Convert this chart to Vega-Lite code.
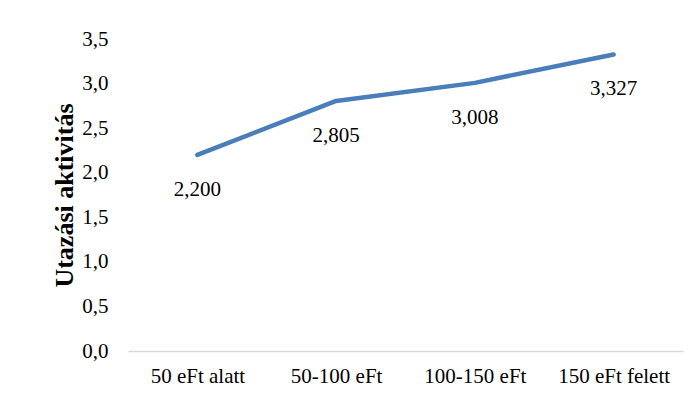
{
  "$schema": "https://vega.github.io/schema/vega-lite/v6.json",
  "width": 555,
  "height": 312,
  "autosize": {"type": "none"},
  "padding": {"left": 128, "top": 39, "right": 17, "bottom": 46},
  "background": "white",
  "config": {
    "locale": {"number": {"decimal": ",", "thousands": " ", "grouping": [3], "currency": ["", ""]}},
    "view": {"stroke": null},
    "font": "'Liberation Serif', 'Times New Roman', serif"
  },
  "data": {
    "values": [
      {"kategoria": "50 eFt alatt", "ertek": 2.2},
      {"kategoria": "50-100 eFt", "ertek": 2.805},
      {"kategoria": "100-150 eFt", "ertek": 3.008},
      {"kategoria": "150 eFt felett", "ertek": 3.327}
    ]
  },
  "encoding": {
    "x": {
      "field": "kategoria",
      "type": "nominal",
      "sort": null,
      "scale": {"type": "point", "padding": 0.5},
      "axis": {
        "title": null,
        "labelAngle": 0,
        "labelFont": "'Liberation Serif', 'Times New Roman', serif",
        "labelFontSize": 21,
        "labelColor": "#000000",
        "labelPadding": 14,
        "ticks": false,
        "domainColor": "#d9d9d9",
        "domainWidth": 1.5,
        "grid": false
      }
    },
    "y": {
      "field": "ertek",
      "type": "quantitative",
      "scale": {"domain": [0, 3.5], "nice": false},
      "axis": {
        "title": "Utazási aktivitás",
        "titleFont": "'Liberation Serif', 'Times New Roman', serif",
        "titleFontSize": 26,
        "titleFontWeight": "bold",
        "titleColor": "#000000",
        "titlePadding": 4,
        "values": [0, 0.5, 1, 1.5, 2, 2.5, 3, 3.5],
        "format": ".1f",
        "labelFont": "'Liberation Serif', 'Times New Roman', serif",
        "labelFontSize": 21,
        "labelColor": "#000000",
        "labelPadding": 20,
        "ticks": false,
        "domain": false,
        "grid": false
      }
    }
  },
  "layer": [
    {
      "mark": {"type": "line", "color": "#4a7ebb", "strokeWidth": 4.5, "strokeCap": "round", "strokeJoin": "round"}
    },
    {
      "mark": {"type": "text", "font": "'Liberation Serif', 'Times New Roman', serif", "fontSize": 21, "color": "#000000", "baseline": "alphabetic", "align": "center", "dy": 41},
      "encoding": {
        "text": {"field": "ertek", "type": "quantitative", "format": ".3f"}
      }
    }
  ]
}
